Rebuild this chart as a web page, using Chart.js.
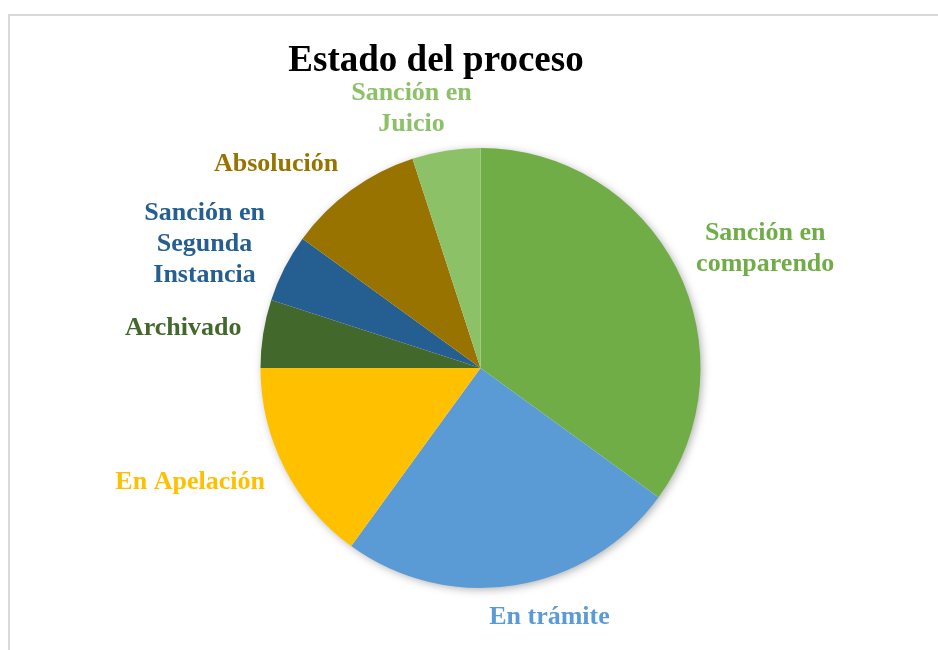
<!DOCTYPE html>
<html lang="es">
<head>
<meta charset="utf-8">
<title>Estado del proceso</title>
<script src="https://cdn.jsdelivr.net/npm/chart.js@4.4.1/dist/chart.umd.min.js"></script>
<style>
    html, body { margin: 0; padding: 0; background: #fff; }
    #wrap { position: relative; width: 938px; height: 650px; }
    #frame {
        position: absolute; left: 8px; top: 14px; right: 0; bottom: 0;
        border-left: 2px solid #d9d9d9; border-top: 2px solid #d9d9d9;
    }
    #title {
        position: absolute; left: 236px; width: 400px; top: 37px;
        text-align: center; font: bold 37px "Liberation Serif", "Times New Roman", serif;
        line-height: 44px; color: #000;
    }
    #chart { position: absolute; left: 0; top: 0; }
</style>
</head>
<body>
<div id="wrap">
    <div id="frame"></div>
    <canvas id="chart" width="938" height="650"></canvas>
    <div id="title">Estado del proceso</div>
</div>
<script>
// categorías (las de varias líneas van como arrays)
const categories = [
    ['Sanción en', 'comparendo'],
    'En trámite',
    'En Apelación',
    'Archivado',
    ['Sanción en', 'Segunda', 'Instancia'],
    'Absolución',
    ['Sanción en', 'Juicio']
];
// porcentaje de procesos por estado
const values = [35, 25, 15, 5, 5, 10, 5];
const sliceColors = ['#70AD47', '#5B9BD5', '#FFC000', '#43682B', '#255E91', '#997300', '#8CC168'];

const labelFont = 'bold 26px "Liberation Serif", "Times New Roman", serif';
const labelLineHeight = 31;

// sombra suave debajo de la torta
const pieShadow = {
    id: 'pieShadow',
    beforeDatasetsDraw(chart) {
        const arc = chart.getDatasetMeta(0).data[0];
        if (!arc) return;
        const ctx = chart.ctx;
        ctx.save();
        ctx.shadowColor = 'rgba(0,0,0,0.35)';
        ctx.shadowBlur = 10;
        ctx.shadowOffsetX = 2;
        ctx.shadowOffsetY = 2;
        ctx.fillStyle = '#fff';
        ctx.beginPath();
        ctx.arc(arc.x, arc.y, arc.outerRadius - 1, 0, Math.PI * 2);
        ctx.fill();
        ctx.restore();
    }
};

// etiquetas fuera del borde, del mismo color que cada porción
// (se empujan hacia los lados como hace Excel)
const outsideLabels = {
    id: 'outsideLabels',
    afterDatasetsDraw(chart, args, opts) {
        const ctx = chart.ctx;
        const meta = chart.getDatasetMeta(0);
        ctx.save();
        ctx.font = labelFont;
        ctx.textAlign = 'center';
        ctx.textBaseline = 'middle';
        meta.data.forEach((arc, i) => {
            const lines = [].concat(chart.data.labels[i]);
            const mid = (arc.startAngle + arc.endAngle) / 2;
            const dx = Math.cos(mid), dy = Math.sin(mid);
            const ux = Math.max(-1, Math.min(1, dx * 3.3));
            const uy = dy * 0.65;
            const w = Math.max(...lines.map(l => ctx.measureText(l).width));
            const h = lines.length * labelLineHeight;
            const r = arc.outerRadius + opts.gap;
            const cx = arc.x + dx * r + ux * w / 2;
            const cy = arc.y + dy * r + uy * h / 2;
            ctx.fillStyle = sliceColors[i];
            lines.forEach((line, j) => {
                ctx.fillText(line, cx, cy - h / 2 + labelLineHeight * (j + 0.5));
            });
        });
        ctx.restore();
    }
};

new Chart(document.getElementById('chart'), {
    type: 'pie',
    data: {
        labels: categories,
        datasets: [{
            data: values,
            backgroundColor: sliceColors,
            borderWidth: 0
        }]
    },
    options: {
        responsive: false,
        animation: false,
        events: [],
        layout: { padding: { left: 260, right: 237, top: 148, bottom: 62 } },
        plugins: {
            legend: { display: false },
            tooltip: { enabled: false },
            title: { display: false },
            outsideLabels: { gap: 22 }
        }
    },
    plugins: [pieShadow, outsideLabels]
});
</script>
</body>
</html>
